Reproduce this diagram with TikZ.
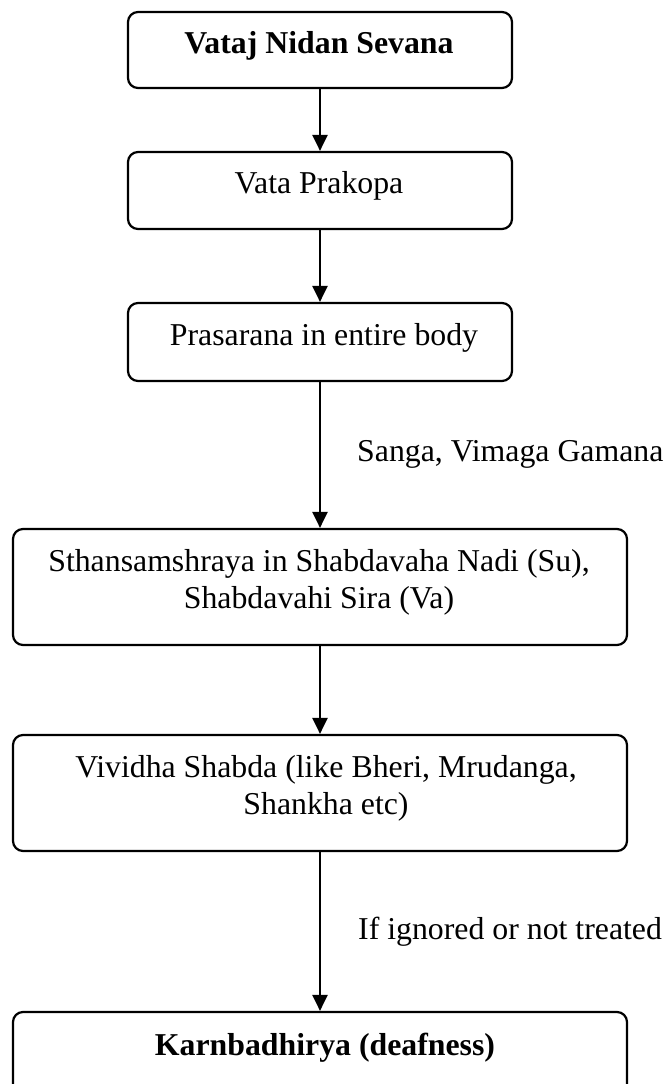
\documentclass[tikz,border=0pt]{standalone}
\usepackage{fontspec}
\setmainfont{Liberation Serif}
\usetikzlibrary{arrows.meta}
\begin{document}
\begin{tikzpicture}[x=1pt,y=-1pt,
  font=\fontsize{31.8}{37}\selectfont,
  box/.style={draw, line width=2.2pt, rounded corners=10pt, inner sep=0pt},
  smallbox/.style={box, minimum width=384pt},
  widebox/.style={box, minimum width=614pt},
  txt/.style={inner sep=0pt, align=center},
  lbl/.style={inner sep=0pt, anchor=west},
  flow/.style={line width=2.2pt, -{Triangle[length=16pt,width=15pt]}}]
\clip (0,0) rectangle (669,1084);
\fill[white] (0,0) rectangle (669,1084);
% boxes
\node[smallbox, minimum height=76pt] (b1) at (320,50) {};
\node[smallbox, minimum height=77pt] (b2) at (320,190.5) {};
\node[smallbox, minimum height=78pt] (b3) at (320,342) {};
\node[widebox, minimum height=116pt] (b4) at (320,587) {};
\node[widebox, minimum height=116pt] (b5) at (320,793) {};
\node[widebox, minimum height=92pt] (b6) at (320,1058) {};
% texts
\node[txt, font=\fontsize{31.8}{37}\selectfont\bfseries] (t1) at (319,46) {Vataj Nidan Sevana};
\node[txt] (t2) at (319,186) {Vata Prakopa};
\node[txt] (t3) at (324,338) {Prasarana in entire body};
\node[txt] (t4) at (319,582.5) {Sthansamshraya in Shabdavaha Nadi (Su),\\Shabdavahi Sira (Va)};
\node[txt] (t5) at (326,788.5) {Vividha Shabda (like Bheri, Mrudanga,\\Shankha etc)};
\node[txt, font=\fontsize{31.8}{37}\selectfont\bfseries] (t6) at (325,1048) {Karnbadhirya (deafness)};
% connectors
\draw[flow] (b1) -- (b2);
\draw[flow] (b2) -- (b3);
\draw[flow] (b3) -- (b4);
\draw[flow] (b4) -- (b5);
\draw[flow] (b5) -- (b6);
% labels
\node[lbl] (l1) at (357,454) {Sanga, Vimaga Gamana};
\node[lbl] (l2) at (358,932) {If ignored or not treated};
\end{tikzpicture}
\end{document}
